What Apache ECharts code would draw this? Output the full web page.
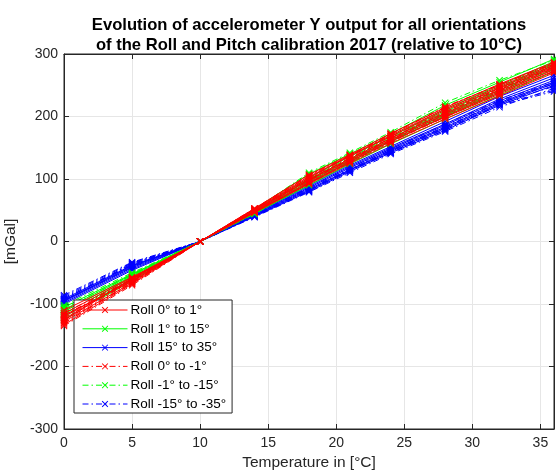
<!DOCTYPE html>
<html><head><meta charset="utf-8">
<script src="https://cdn.jsdelivr.net/npm/echarts@6/dist/echarts.min.js"></script>
<style>html,body{margin:0;padding:0;background:#fff}#c{width:556px;height:475px}</style>
</head><body><div id="c"></div>
<script>
const temperatures = [0, 5, 10, 14, 18, 21, 24, 28, 32, 36];
const legendNames = ['Roll 0° to 1°','Roll 1° to 15°','Roll 15° to 35°','Roll 0° to -1°','Roll -1° to -15°','Roll -15° to -35°'];
const rollPos0to1 = [
  [-120,-62,0,48,95,128,160,200,238,275],
  [-128,-66,0,50,100,132,165,205,243,280],
  [-115,-58,0,46,92,125,157,196,233,270],
  [-133,-68,0,52,104,136,170,212,248,284],
  [-124,-60,0,49,98,130,163,203,240,278],
  [-118,-64,0,51,102,138,168,210,246,282],
  [-126,-59,0,47,93,127,161,199,236,273],
  [-110,-57,0,53,107,139,173,214,252,287]
];
const rollPos1to15 = [
  [-112,-55,0,47,96,130,162,204,242,282],
  [-120,-60,0,50,102,136,168,212,250,288],
  [-105,-52,0,45,90,124,156,196,234,272],
  [-125,-63,0,52,108,140,172,218,255,292],
  [-116,-57,0,48,99,132,165,208,246,285],
  [-109,-53,0,46,94,128,160,201,238,276]
];
const rollPos15to35 = [
  [-95,-40,0,42,84,115,146,183,222,255],
  [-98,-44,0,44,88,120,150,188,228,262],
  [-92,-38,0,40,80,112,142,178,218,250],
  [-100,-46,0,45,90,122,152,192,232,266],
  [-96,-42,0,43,86,118,148,186,225,258],
  [-94,-39,0,41,82,114,144,181,220,253]
];
const rollNeg0to1 = [
  [-122,-63,0,49,97,130,162,202,240,277],
  [-130,-67,0,51,102,134,168,208,245,282],
  [-118,-60,0,47,94,127,159,199,236,272],
  [-126,-64,0,53,106,138,172,216,250,286],
  [-135,-70,0,50,100,133,166,206,242,280],
  [-114,-61,0,48,99,131,164,207,244,279],
  [-131,-65,0,52,105,137,171,215,251,285]
];
const rollNeg1to15 = [
  [-108,-54,0,46,94,128,160,200,240,280],
  [-118,-59,0,49,100,134,166,210,248,286],
  [-102,-50,0,44,92,126,158,202,238,276],
  [-122,-61,0,51,110,142,175,222,258,290],
  [-112,-56,0,47,97,131,163,206,244,283],
  [-106,-52,0,45,95,129,161,204,241,279]
];
const rollNeg15to35 = [
  [-88,-34,0,41,82,113,143,180,218,240],
  [-92,-37,0,42,85,116,146,184,222,248],
  [-86,-33,0,39,79,110,140,176,215,245],
  [-95,-41,0,43,87,118,148,188,226,255],
  [-90,-36,0,40,81,114,142,178,220,242],
  [-93,-35,0,41,83,115,145,182,224,252]
];

const XSYM = 'path://M0,1L1,0L5,4L9,0L10,1L6,5L10,9L9,10L5,6L1,10L0,9L4,5Z';
const DASHDOT = [6,3,1.5,3];
const groups = [
  {name: legendNames[2], data: rollPos15to35, color:'#0000ff', dash:'solid', z:2},
  {name: legendNames[5], data: rollNeg15to35, color:'#0000ff', dash:DASHDOT, z:2},
  {name: legendNames[1], data: rollPos1to15, color:'#00ff00', dash:'solid', z:3},
  {name: legendNames[4], data: rollNeg1to15, color:'#00ff00', dash:DASHDOT, z:3},
  {name: legendNames[3], data: rollNeg0to1, color:'#ff0000', dash:DASHDOT, z:4},
  {name: legendNames[0], data: rollPos0to1, color:'#ff0000', dash:'solid', z:4}
];
const series = [];
groups.forEach(g => {
  g.data.forEach(line => {
    series.push({
      type:'line', name:g.name, z:g.z,
      data: temperatures.map((t,i)=>[t,line[i]]),
      symbol: XSYM, symbolSize: 7, showSymbol:true,
      itemStyle:{color:g.color},
      lineStyle:{color:g.color, width:1, type:g.dash},
      animation:false
    });
  });
});
const FF = 'Liberation Sans, Arial, sans-serif';
const axisTxt = {color:'#262626', fontSize:14, fontFamily:FF};
const chart = echarts.init(document.getElementById('c'), null, {renderer:'canvas'});
chart.setOption({
  animation:false,
  title:{
    text:'Evolution of accelerometer Y output for all orientations\nof the Roll and Pitch calibration 2017 (relative to 10°C)',
    left:304, top:10, textAlign:'center',
    textStyle:{fontSize:16.6, fontWeight:'bold', color:'#000', lineHeight:20, fontFamily:FF}
  },
  grid:{left:64, right:2, top:54, bottom:46, show:true, borderColor:'#262626', borderWidth:1, backgroundColor:'#fff', outerBoundsMode:'none', containLabel:false},
  legend:{
    data: legendNames, orient:'vertical', left:74, top:300,
    itemWidth:45, itemHeight:8, itemGap:4.8,
    padding:[3,6,2,8],
    lineStyle:{width:1},
    backgroundColor:'#fff', borderColor:'#262626', borderWidth:1,
    textStyle:{color:'#000', fontSize:13.5, lineHeight:14, fontFamily:FF, padding:[0,0,0,-2]}
  },
  xAxis:[{
    type:'value', min:0, max:36, interval:5,
    name:'Temperature in [°C]', nameLocation:'middle', nameGap:24,
    nameTextStyle:{color:'#262626', fontSize:15.5, fontFamily:FF},
    axisLine:{show:true, onZero:false, lineStyle:{color:'#262626'}},
    axisTick:{show:true, inside:true, length:5, lineStyle:{color:'#262626'}},
    axisLabel:Object.assign({showMaxLabel:false, margin:7}, axisTxt),
    splitLine:{show:true, lineStyle:{color:'#e6e6e6'}}
  },{
    type:'value', min:0, max:36, interval:5, position:'top',
    axisLine:{show:true, onZero:false, lineStyle:{color:'#262626'}},
    axisTick:{show:true, inside:true, length:5, lineStyle:{color:'#262626'}},
    axisLabel:{show:false}, splitLine:{show:false}
  }],
  yAxis:[{
    type:'value', min:-300, max:300, interval:100,
    name:'[mGal]', nameLocation:'middle', nameGap:41,
    nameTextStyle:{color:'#262626', fontSize:15.5, fontFamily:FF},
    axisLine:{show:true, onZero:false, lineStyle:{color:'#262626'}},
    axisTick:{show:true, inside:true, length:5, lineStyle:{color:'#262626'}},
    axisLabel:Object.assign({margin:6}, axisTxt),
    splitLine:{show:true, lineStyle:{color:'#e6e6e6'}}
  },{
    type:'value', min:-300, max:300, interval:100, position:'right',
    axisLine:{show:true, onZero:false, lineStyle:{color:'#262626'}},
    axisTick:{show:true, inside:true, length:5, lineStyle:{color:'#262626'}},
    axisLabel:{show:false}, splitLine:{show:false}
  }],
  series: series
});
</script></body></html>
